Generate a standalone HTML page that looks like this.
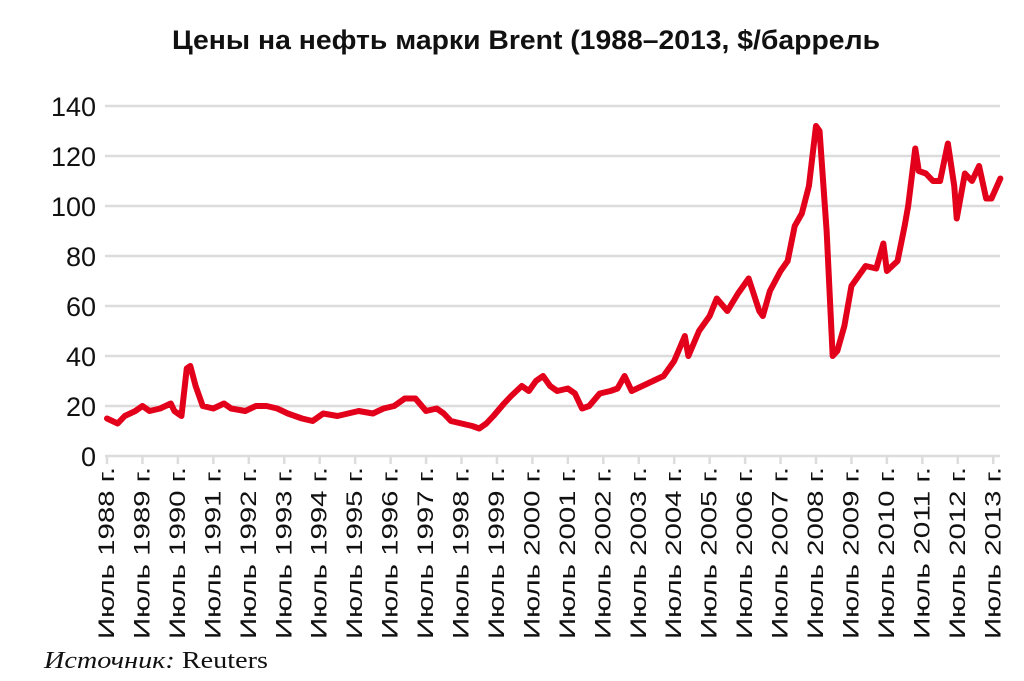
<!DOCTYPE html>
<html><head><meta charset="utf-8"><style>
body{margin:0;background:#fff;width:1024px;height:681px;overflow:hidden}
svg{display:block}
</style></head><body>
<svg width="1024" height="681">
<text x="172" y="49" textLength="708" lengthAdjust="spacingAndGlyphs" font-family="Liberation Sans, DejaVu Sans, sans-serif" font-weight="bold" font-size="27" fill="#111">Цены на нефть марки Brent (1988–2013, $/баррель</text>
<g id="grid"></g><g id="yt"></g><g id="xt"></g><g id="plot"></g>
<text x="44" y="668" textLength="224" lengthAdjust="spacingAndGlyphs" font-family="Liberation Serif, serif" font-size="24" fill="#111"><tspan font-style="italic">Источник:</tspan> Reuters</text>
</svg>
<script>
const yTicks=[0,20,40,60,80,100,120,140];
const xYears=[1988,1989,1990,1991,1992,1993,1994,1995,1996,1997,1998,1999,2000,2001,2002,2003,2004,2005,2006,2007,2008,2009,2010,2011,2012,2013];
const dates=[1988.5,1988.8,1989.0,1989.3,1989.5,1989.7,1990.0,1990.3,1990.4,1990.6,1990.75,1990.85,1991.0,1991.2,1991.5,1991.8,1992.0,1992.4,1992.7,1993.0,1993.3,1993.6,1994.0,1994.3,1994.6,1995.0,1995.3,1995.6,1996.0,1996.3,1996.6,1996.9,1997.2,1997.5,1997.8,1998.0,1998.2,1998.5,1998.8,1999.0,1999.2,1999.4,1999.7,1999.9,2000.2,2000.4,2000.6,2000.8,2001.0,2001.2,2001.5,2001.7,2001.9,2002.1,2002.4,2002.7,2002.9,2003.1,2003.3,2003.6,2003.9,2004.2,2004.5,2004.8,2004.9,2005.2,2005.5,2005.7,2006.0,2006.3,2006.6,2006.9,2007.0,2007.2,2007.5,2007.7,2007.9,2008.1,2008.3,2008.5,2008.6,2008.8,2008.97,2009.1,2009.3,2009.5,2009.7,2009.9,2010.2,2010.4,2010.5,2010.8,2011.0,2011.1,2011.3,2011.4,2011.6,2011.8,2012.0,2012.22,2012.4,2012.47,2012.7,2012.9,2013.1,2013.3,2013.45,2013.7];
const prices=[15,13,16,18,20,18,19,21,18,16,35,36,28,20,19,21,19,18,20,20,19,17,15,14,17,16,17,18,17,19,20,23,23,18,19,17,14,13,12,11,13,16,21,24,28,26,30,32,28,26,27,25,19,20,25,26,27,32,26,28,30,32,38,48,40,50,56,63,58,65,71,58,56,66,74,78,92,97,108,132,130,90,40,42,52,68,72,76,75,85,74,78,92,100,123,114,113,110,110,125,108,95,113,110,116,103,103,111];
const NS='http://www.w3.org/2000/svg';
const y=v=>456-v*2.5;
const x=t=>107+(t-1988.5)*35.45;
function mk(tag,at,parent){const e=document.createElementNS(NS,tag);for(const k in at)e.setAttribute(k,at[k]);document.getElementById(parent).appendChild(e);return e;}
yTicks.forEach(v=>{
 const l=mk('line',{x1:105,x2:1000,y1:y(v),y2:y(v),stroke:'#dcdcdc','stroke-width':2.5},'grid');
 
 
 const t=mk('text',{x:96,y:y(v)+10,'text-anchor':'end','font-family':'Liberation Sans, sans-serif','font-size':27,fill:'#111'},'yt');
 t.textContent=v;
 
 
});
xYears.forEach(yr=>{
 const px=x(yr+0.5);
 const l=mk('line',{x1:px,x2:px,y1:456,y2:464,stroke:'#dcdcdc','stroke-width':2.5},'xt');
 
 
 const t=mk('text',{transform:`translate(${px+7},467) rotate(-90)`,'text-anchor':'end',textLength:172,lengthAdjust:'spacingAndGlyphs','font-family':'Liberation Sans, sans-serif','font-size':22,fill:'#111'},'xt');
 t.textContent='Июль '+yr+' г.';
 
 
});
const p=mk('polyline',{points:dates.map((d,i)=>x(d)+','+y(prices[i])).join(' '),fill:'none',stroke:'#e3001b','stroke-width':6,'stroke-linejoin':'round','stroke-linecap':'round'},'plot');


</script>
</body></html>
